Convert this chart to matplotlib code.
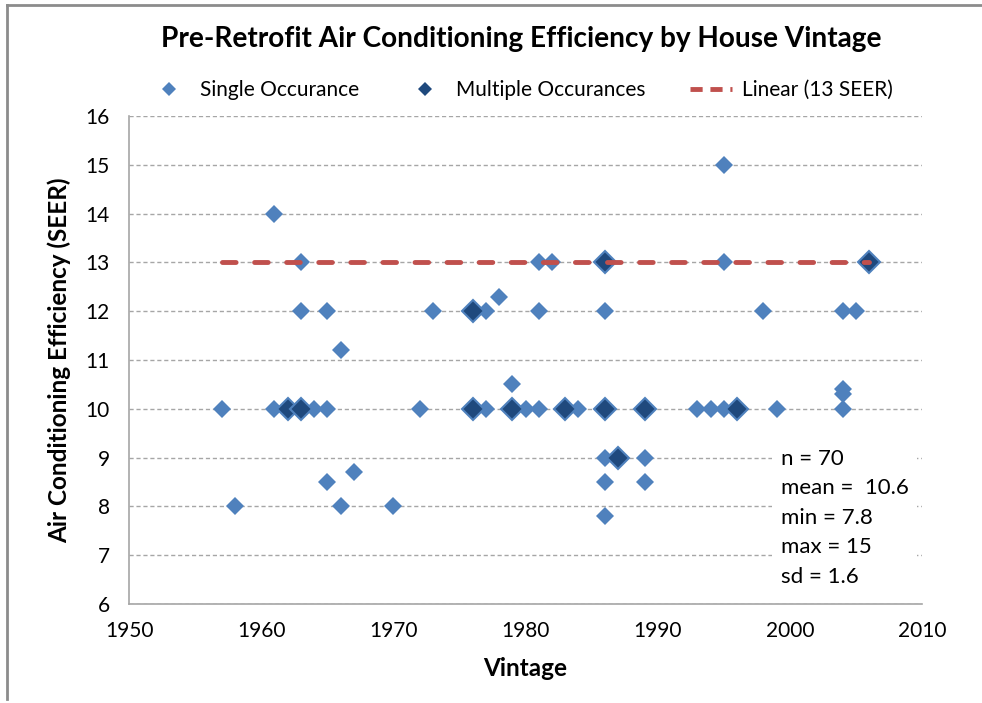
import matplotlib.pyplot as plt
from matplotlib.lines import Line2D

plt.rcParams['font.family'] = ['Lato', 'DejaVu Sans']

# single occurrence houses
single_year = [1957, 1958, 1961, 1961, 1963, 1963, 1963, 1964, 1965, 1965, 1965, 1966, 1966, 1967,
               1970, 1972, 1973, 1977, 1977, 1978, 1979, 1980, 1981, 1981, 1981, 1982, 1984,
               1986, 1986, 1986, 1986, 1989, 1989, 1993, 1994, 1995, 1995, 1995, 1998, 1999,
               2004, 2005, 2004, 2004, 2004]
single_seer = [10, 8, 14, 10, 13, 12, 10, 10, 12, 10, 8.5, 11.2, 8, 8.7,
               8, 10, 12, 12, 10, 12.3, 10.5, 10, 13, 12, 10, 13, 10,
               12, 9, 8.5, 7.8, 9, 8.5, 10, 10, 10, 15, 13, 12, 10,
               12, 12, 10.4, 10.3, 10]

# repeated values (several houses on one spot)
multi_year = [1962, 1963, 1976, 1976, 1979, 1983, 1986, 1986, 1987, 1989, 1996, 2006]
multi_seer = [10, 10, 12, 10, 10, 10, 13, 10, 9, 10, 10, 13]

trend_year = [1957, 2006]
trend_seer = [13, 13]

stats_lines = ['n = 70', 'mean =  10.6', 'min = 7.8', 'max = 15', 'sd = 1.6']

light = '#4F81BD'
dark = '#1F497D'
red = '#C0504D'

fig = plt.figure(figsize=(9.82, 7.03), dpi=100)
ax = fig.add_axes([0.1314, 0.1408, 0.8076, 0.6942])

ax.plot(single_year, single_seer, 'D', color=light, markersize=9, markeredgewidth=0, zorder=3)
ax.plot(multi_year, multi_seer, 'D', color=dark, markersize=11.5, markeredgecolor=light,
        markeredgewidth=1.5, zorder=4)
ax.plot(trend_year, trend_seer, color=red, linewidth=3.5, dashes=(2.8, 3.8),
        solid_capstyle='round', dash_capstyle='round', zorder=5)

ax.set_xlim(1950, 2010)
ax.set_ylim(6, 16)
ax.set_xticks(range(1950, 2011, 10))
ax.set_yticks(range(6, 17))
ax.tick_params(length=0, labelsize=15, pad=12, colors='black')
ax.tick_params(axis='y', pad=14)
ax.grid(axis='y', color='#A6A6A6', linestyle=(0, (3, 2)), linewidth=1, zorder=0)
for s in ['top', 'right']:
    ax.spines[s].set_visible(False)
for s in ['left', 'bottom']:
    ax.spines[s].set_color('#A6A6A6')
    ax.spines[s].set_linewidth(1.2)

ax.set_xlabel('Vintage', fontsize=17.5, fontweight='bold', labelpad=12)
ax.set_ylabel('Air Conditioning Efficiency (SEER)', fontsize=17.5, fontweight='bold', labelpad=10)

fig.text(0.531, 0.945, 'Pre-Retrofit Air Conditioning Efficiency by House Vintage',
         ha='center', va='center', fontsize=20.2, fontweight='bold')

# statistics box, white background hides the gridlines behind
ax.text(0.822, 0.035, '\n'.join(stats_lines), transform=ax.transAxes, fontsize=16,
        linespacing=1.6, va='bottom', ha='left',
        bbox=dict(facecolor='white', edgecolor='none', pad=6), zorder=6)

handles = [
    Line2D([], [], marker='D', linestyle='none', color=light, markersize=7, markeredgewidth=0),
    Line2D([], [], marker='D', linestyle='none', color=dark, markersize=7, markeredgewidth=0),
    Line2D([], [], color=red, linewidth=3.5, dashes=(2.5, 1.6)),
]
fig.legend(handles, ['Single Occurance', 'Multiple Occurances', 'Linear (13 SEER)'],
           loc='center', bbox_to_anchor=(0.53, 0.872), ncol=3, frameon=False,
           fontsize=15, handlelength=2.0, columnspacing=2.15, handletextpad=0.5)

# chart border (top and left edge only visible)
fig.add_artist(Line2D([0.007, 0.007], [0.005, 0.993], color='#8C8C8C', linewidth=2,
                      transform=fig.transFigure))
fig.add_artist(Line2D([0.007, 1.0], [0.993, 0.993], color='#8C8C8C', linewidth=2,
                      transform=fig.transFigure))

fig.savefig('out.png', dpi=100)
